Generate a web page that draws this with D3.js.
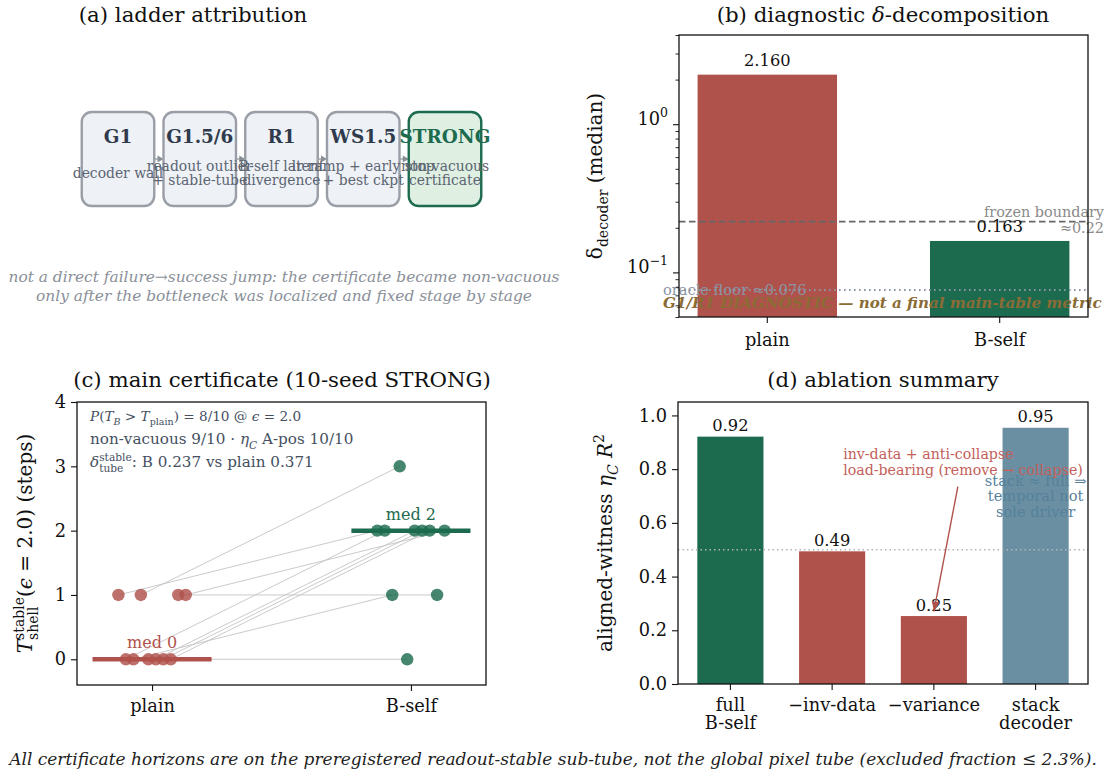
<!DOCTYPE html>
<html>
<head>
<meta charset="utf-8">
<script src="https://cdn.jsdelivr.net/npm/d3@7"></script>
<style>
  body { margin: 0; background: #fff; }
  svg { font-family: "DejaVu Serif", serif; }
</style>
</head>
<body>
<script>
// ---- data ----
// (a) ladder
const stages = ['G1', 'G1.5/6', 'R1', 'WS1.5', 'STRONG'];
const stageNotes = [
    ['decoder wall'],
    ['readout outlier', '+ stable-tube'],
    ['B-self latent', 'divergence'],
    ['lr-ramp + early stop', '+ best ckpt'],
    ['non-vacuous', 'certificate']
];

// (b) delta decomposition
const deltaCats = ['plain', 'B-self'];
const deltaMedian = [2.160, 0.163];
const frozenBoundary = 0.22;
const oracleFloor = 0.076;
const logMajor = [0.1, 1];
const logMinor = [0.05, 0.06, 0.07, 0.08, 0.09, 0.2, 0.3, 0.4, 0.5, 0.6, 0.7, 0.8, 0.9, 2, 3, 4];

// (c) per-seed certificate horizons
const certCats = ['plain', 'B-self'];
const seedPlain = [1, 0, 0, 1, 0, 0, 0, 0, 1, 1];
const seedBself = [2, 2, 1, 3, 0, 2, 2, 2, 1, 2];
const certTicks = [0, 1, 2, 3, 4];

// (d) ablation
const ablCats = [['full', 'B-self'], ['\u2212inv-data'], ['\u2212variance'], ['stack', 'decoder']];
const ablR2 = [0.921, 0.494, 0.253, 0.954];
const ablThreshold = 0.5;
const ablTicks = [0, 0.2, 0.4, 0.6, 0.8, 1.0];

// ---- style ----
const GREEN = '#1d6b4f', RED = '#b0524c', BLUE = '#6a8fa3';
const TICK = 17.8, LABEL = 20, TITLE = 21.3, VALUE = 16.3;

const svg = d3.select('body').append('svg')
    .attr('width', 1107)
    .attr('height', 776);

// mixed math text: parts = [text, kind]; kind: '' | 'i' | 'sub' | 'isub' | 'sup' | 'stack'
const rich = (text, parts, size) => {
    let shift = 0, pad = 0;
    parts.forEach(([t, k]) => {
        if (k === 'stack') {
            const up = -size * 0.42, down = size * 0.3;
            const sup = text.append('tspan').attr('font-size', size * 0.7)
                .attr('dy', up - shift).attr('dx', pad).text(t[0]);
            const w1 = sup.node().getComputedTextLength();
            const sub = text.append('tspan').attr('font-size', size * 0.7)
                .attr('dy', down - up).attr('dx', -w1).text(t[1]);
            const w2 = sub.node().getComputedTextLength();
            shift = down;
            pad = Math.max(0, w1 - w2);
            return;
        }
        let target = 0;
        if (k.includes('sub')) target = size * 0.3;
        if (k.includes('sup')) target = -size * 0.42;
        const ts = text.append('tspan').text(t).attr('dy', target - shift);
        if (pad) ts.attr('dx', pad);
        pad = 0;
        shift = target;
        if (target !== 0) ts.attr('font-size', size * 0.7);
        if (k.startsWith('i')) ts.attr('font-style', 'italic');
    });
    return text;
};

const title = (x, y, parts) => rich(svg.append('text')
    .attr('x', x).attr('y', y)
    .attr('text-anchor', 'middle')
    .attr('font-size', TITLE)
    .attr('fill', '#111'), parts, TITLE);

const yLabel = (x, y, parts) => rich(svg.append('text')
    .attr('transform', `translate(${x},${y}) rotate(-90)`)
    .attr('text-anchor', 'middle')
    .attr('font-size', LABEL)
    .attr('fill', '#111'), parts, LABEL);

const styleAxis = g => {
    g.select('.domain').remove();
    g.selectAll('line').attr('stroke', '#111').attr('stroke-width', 1.1);
    g.selectAll('text')
        .attr('font-size', TICK)
        .attr('font-family', '"DejaVu Serif", serif')
        .attr('fill', '#111');
};

const frame = m => svg.append('rect')
    .attr('x', m.l).attr('y', m.t)
    .attr('width', m.r - m.l).attr('height', m.b - m.t)
    .attr('fill', 'none')
    .attr('stroke', '#111')
    .attr('stroke-width', 1.3);

// =========== (a) ladder attribution ===========
title(193, 22, [['(a) ladder attribution', '']]);

const ladderX = d3.scaleLinear().domain([0, stages.length - 1]).range([118, 445]);
const boxW = 72.5, boxH = 94, boxTop = 112;
const gA = svg.append('g');

d3.range(stages.length - 1).forEach(i => {
    const x0 = ladderX(i) + boxW / 2, x1 = ladderX(i + 1) - boxW / 2;
    const yMid = boxTop + boxH / 2;
    gA.append('line')
        .attr('x1', x0).attr('x2', x1 - 5)
        .attr('y1', yMid).attr('y2', yMid)
        .attr('stroke', '#8a8f96').attr('stroke-width', 1.2);
    gA.append('path')
        .attr('d', `M${x1 - 6},${yMid - 3.5}L${x1},${yMid}L${x1 - 6},${yMid + 3.5}Z`)
        .attr('fill', '#8a8f96');
});

stages.forEach((s, i) => {
    const strong = i === stages.length - 1;
    const cx = ladderX(i);
    gA.append('rect')
        .attr('x', cx - boxW / 2).attr('y', boxTop)
        .attr('width', boxW).attr('height', boxH)
        .attr('rx', 10)
        .attr('fill', strong ? '#dcefe1' : '#edf0f5')
        .attr('fill-opacity', 0.92)
        .attr('stroke', strong ? GREEN : '#9a9ea6')
        .attr('stroke-width', 2.4);
});

stages.forEach((s, i) => {
    const strong = i === stages.length - 1;
    const cx = ladderX(i);
    gA.append('text')
        .attr('x', cx).attr('y', boxTop + boxH * 0.26)
        .attr('dy', '0.35em')
        .attr('text-anchor', 'middle')
        .attr('font-weight', 'bold')
        .attr('font-size', 18.4)
        .attr('fill', strong ? GREEN : '#2f3b4c')
        .text(s);
    const lines = stageNotes[i];
    const lh = 14.7;
    lines.forEach((l, j) => {
        gA.append('text')
            .attr('x', cx)
            .attr('y', boxTop + boxH * 0.65 + (j - (lines.length - 1) / 2) * lh)
            .attr('dy', '0.35em')
            .attr('text-anchor', 'middle')
            .attr('font-size', 13.9)
            .attr('fill', '#5c6572')
            .text(l);
    });
});

['not a direct failure\u2192success jump: the certificate became non-vacuous',
 'only after the bottleneck was localized and fixed stage by stage'].forEach((l, j) => {
    svg.append('text')
        .attr('x', 284).attr('y', 282 + j * 19)
        .attr('text-anchor', 'middle')
        .attr('font-style', 'italic')
        .attr('font-size', 15.4)
        .attr('fill', '#8a9099')
        .text(l);
});

// =========== (b) diagnostic delta decomposition ===========
title(883, 22, [['(b) diagnostic ', ''], ['\u03b4', 'i'], ['-decomposition', '']]);

const bM = { l: 679, r: 1088, t: 35, b: 317 };
const xb = d3.scaleBand().domain(deltaCats).range([bM.l, bM.r])
    .paddingInner(0.4).paddingOuter(0.08);
const yb = d3.scaleLog().domain([0.05, 4]).range([bM.b, bM.t]);

svg.append('g').selectAll('rect')
    .data(deltaCats)
    .join('rect')
    .attr('x', d => xb(d))
    .attr('y', (d, i) => yb(deltaMedian[i]))
    .attr('width', xb.bandwidth())
    .attr('height', (d, i) => bM.b - yb(deltaMedian[i]))
    .attr('fill', (d, i) => i === 0 ? RED : GREEN);

svg.append('line')
    .attr('x1', bM.l).attr('x2', bM.r)
    .attr('y1', yb(frozenBoundary)).attr('y2', yb(frozenBoundary))
    .attr('stroke', '#666').attr('stroke-width', 1.8)
    .attr('stroke-dasharray', '6.5,3.5');

svg.append('line')
    .attr('x1', bM.l).attr('x2', bM.r)
    .attr('y1', yb(oracleFloor)).attr('y2', yb(oracleFloor))
    .attr('stroke', '#8a95a5').attr('stroke-width', 1.9)
    .attr('stroke-dasharray', '1.6,3.4');

deltaCats.forEach((c, i) => {
    svg.append('text')
        .attr('x', xb(c) + xb.bandwidth() / 2)
        .attr('y', yb(deltaMedian[i] * 1.15))
        .attr('text-anchor', 'middle')
        .attr('font-size', VALUE)
        .attr('fill', '#111')
        .text(d3.format('.3f')(deltaMedian[i]));
});

['frozen boundary', '\u22480.22'].forEach((l, j) => {
    svg.append('text')
        .attr('x', 1104).attr('y', yb(frozenBoundary) - 5 + j * 16)
        .attr('text-anchor', 'end')
        .attr('font-size', 14.4)
        .attr('fill', '#8a8a8a')
        .text(l);
});

svg.append('text')
    .attr('x', bM.l - 16).attr('y', yb(oracleFloor) + 5)
    .attr('font-size', 14.6)
    .attr('fill', '#8a95a5')
    .text('oracle floor \u22480.076');

svg.append('text')
    .attr('x', bM.l - 16).attr('y', bM.b - 9)
    .attr('font-size', 15.1)
    .attr('font-weight', 'bold')
    .attr('font-style', 'italic')
    .attr('fill', '#8b6c35')
    .text('G1/R1 DIAGNOSTIC \u2014 not a final main-table metric');

const ybMajor = svg.append('g')
    .attr('transform', `translate(${bM.l},0)`)
    .call(d3.axisLeft(yb).tickValues(logMajor).tickSize(6).tickPadding(5).tickFormat(() => ''))
    .call(styleAxis);
ybMajor.selectAll('.tick text').each(function (d) {
    rich(d3.select(this), [['10', ''], [String(Math.round(Math.log10(d))).replace('-', '\u2212'), 'sup']], TICK);
});
svg.append('g')
    .attr('transform', `translate(${bM.l},0)`)
    .call(d3.axisLeft(yb).tickValues(logMinor).tickSize(3.5).tickFormat(() => ''))
    .call(styleAxis)
    .selectAll('line').attr('stroke-width', 0.9);

svg.append('g')
    .attr('transform', `translate(0,${bM.b})`)
    .call(d3.axisBottom(xb).tickSize(6).tickPadding(10))
    .call(styleAxis);

frame(bM);
yLabel(602, (bM.t + bM.b) / 2, [['\u03b4', ''], ['decoder', 'sub'], [' (median)', '']]);

// =========== (c) main certificate ===========
title(282, 387, [['(c) main certificate (10-seed STRONG)', '']]);

const cM = { l: 77, r: 486, t: 402, b: 685 };
const xc = d3.scaleLinear().domain([-0.29, 1.29]).range([cM.l, cM.r]);
const yc = d3.scaleLinear().domain([-0.4, 4]).range([cM.b, cM.t]);
const jitter = i => (i - (seedPlain.length - 1) / 2) * 0.26 / (seedPlain.length - 1);

const gC = svg.append('g');
seedPlain.forEach((v, i) => {
    gC.append('line')
        .attr('x1', xc(0 + jitter(i))).attr('y1', yc(v))
        .attr('x2', xc(1 + jitter(i))).attr('y2', yc(seedBself[i]))
        .attr('stroke', '#c4c4c4').attr('stroke-width', 0.9);
});

[seedPlain, seedBself].forEach((vals, k) => {
    const med = d3.median(vals);
    const col = k === 0 ? RED : GREEN;
    gC.append('line')
        .attr('x1', xc(k - 0.23)).attr('x2', xc(k + 0.23))
        .attr('y1', yc(med)).attr('y2', yc(med))
        .attr('stroke', col).attr('stroke-width', 4.5);
    gC.append('text')
        .attr('x', xc(k)).attr('y', yc(med) - 11)
        .attr('text-anchor', 'middle')
        .attr('font-size', 16)
        .attr('fill', col)
        .text(`med ${med}`);
});

[seedPlain, seedBself].forEach((vals, k) => {
    gC.selectAll(null)
        .data(vals)
        .join('circle')
        .attr('cx', (d, i) => xc(k + jitter(i)))
        .attr('cy', d => yc(d))
        .attr('r', 6.2)
        .attr('fill', k === 0 ? RED : GREEN)
        .attr('fill-opacity', 0.82);
});

const noteC = [
    [['P', 'i'], ['(', ''], ['T', 'i'], ['B', 'isub'], [' > ', ''], ['T', 'i'], ['plain', 'sub'],
     [') = 8/10 @ ', ''], ['\u03f5', 'i'], [' = 2.0', '']],
    [['non-vacuous 9/10 \u00b7 ', ''], ['\u03b7', 'i'], ['C', 'isub'], [' A-pos 10/10', '']],
    [['\u03b4', 'i'], [['stable', 'tube'], 'stack'], [': B 0.237 vs plain 0.371', '']]
];
const noteSize = [13.6, 15.2, 15.2];
noteC.forEach((parts, j) => {
    rich(svg.append('text')
        .attr('x', 90).attr('y', 421 + j * 23)
        .attr('font-size', noteSize[j])
        .attr('fill', '#45505f'), parts, noteSize[j]);
});

svg.append('g')
    .attr('transform', `translate(${cM.l},0)`)
    .call(d3.axisLeft(yc).tickValues(certTicks).tickSize(6).tickPadding(5).tickFormat(d3.format('d')))
    .call(styleAxis);
svg.append('g')
    .attr('transform', `translate(0,${cM.b})`)
    .call(d3.axisBottom(xc).tickValues([0, 1]).tickSize(6).tickPadding(8).tickFormat(i => certCats[i]))
    .call(styleAxis);
frame(cM);
yLabel(32, (cM.t + cM.b) / 2, [['T', 'i'], [['stable', 'shell'], 'stack'], ['(', ''], ['\u03f5', 'i'], [' = 2.0)  (steps)', '']]);

// =========== (d) ablation summary ===========
title(883, 387, [['(d) ablation summary', '']]);

const dM = { l: 678, r: 1088, t: 402, b: 684 };
const xd = d3.scaleBand().domain(d3.range(ablCats.length)).range([dM.l, dM.r])
    .paddingInner(0.35).paddingOuter(0.19);
const yd = d3.scaleLinear().domain([0, 1.05]).range([dM.b, dM.t]);
const ablColor = [GREEN, RED, RED, BLUE];

svg.append('g').selectAll('rect')
    .data(ablR2)
    .join('rect')
    .attr('x', (d, i) => xd(i))
    .attr('y', d => yd(d))
    .attr('width', xd.bandwidth())
    .attr('height', d => dM.b - yd(d))
    .attr('fill', (d, i) => ablColor[i]);

svg.append('line')
    .attr('x1', dM.l).attr('x2', dM.r)
    .attr('y1', yd(ablThreshold)).attr('y2', yd(ablThreshold))
    .attr('stroke', '#b4b4b4').attr('stroke-width', 1.5)
    .attr('stroke-dasharray', '1.5,3');

ablR2.forEach((v, i) => {
    svg.append('text')
        .attr('x', xd(i) + xd.bandwidth() / 2)
        .attr('y', yd(v + 0.02))
        .attr('text-anchor', 'middle')
        .attr('font-size', VALUE)
        .attr('fill', '#111')
        .text(d3.format('.2f')(v));
});

// annotation: arrow to the -variance bar
const arrowFrom = [xd(2) + xd.bandwidth() / 2 + 24, yd(0.735)];
const arrowTo = [xd(2) + xd.bandwidth() / 2, yd(0.27)];
svg.append('line')
    .attr('x1', arrowFrom[0]).attr('y1', arrowFrom[1])
    .attr('x2', arrowTo[0]).attr('y2', arrowTo[1])
    .attr('stroke', RED).attr('stroke-width', 1.4);
{
    const ang = Math.atan2(arrowTo[1] - arrowFrom[1], arrowTo[0] - arrowFrom[0]);
    const L = 10, Wd = 4;
    const bx = arrowTo[0] - L * Math.cos(ang), by = arrowTo[1] - L * Math.sin(ang);
    svg.append('path')
        .attr('d', `M${arrowTo[0]},${arrowTo[1]}L${bx - Wd * Math.sin(ang)},${by + Wd * Math.cos(ang)}L${bx + Wd * Math.sin(ang)},${by - Wd * Math.cos(ang)}Z`)
        .attr('fill', RED);
}

['inv-data + anti-collapse', 'load-bearing (remove \u2192 collapse)'].forEach((l, j) => {
    svg.append('text')
        .attr('x', xd(1) + xd.bandwidth() / 2 + 11)
        .attr('y', yd(0.858) + 5 + j * 16)
        .attr('font-size', 14.2)
        .attr('fill', '#c3605a')
        .text(l);
});

['stack \u2248 full \u21d2', 'temporal not', 'sole driver'].forEach((l, j) => {
    svg.append('text')
        .attr('x', xd(3) + xd.bandwidth() / 2)
        .attr('y', yd(0.757) + 5 + j * 15.5)
        .attr('text-anchor', 'middle')
        .attr('font-size', 14.6)
        .attr('fill', '#56819a')
        .text(l);
});

svg.append('g')
    .attr('transform', `translate(${dM.l},0)`)
    .call(d3.axisLeft(yd).tickValues(ablTicks).tickSize(6).tickPadding(5).tickFormat(d3.format('.1f')))
    .call(styleAxis);
const xdAxis = svg.append('g')
    .attr('transform', `translate(0,${dM.b})`)
    .call(d3.axisBottom(xd).tickSize(6).tickPadding(8).tickFormat(() => ''))
    .call(styleAxis);
xdAxis.selectAll('.tick text').each(function (d) {
    const t = d3.select(this);
    ablCats[d].forEach((l, j) => {
        t.append('tspan').attr('x', 0).attr('dy', j === 0 ? '0.71em' : '1.02em').text(l);
    });
});
frame(dM);
yLabel(612, (dM.t + dM.b) / 2, [['aligned-witness ', ''], ['\u03b7', 'i'], ['C', 'isub'], ['  ', ''], ['R', 'i'], ['2', 'sup']]);

// footer
svg.append('text')
    .attr('x', 553).attr('y', 765)
    .attr('text-anchor', 'middle')
    .attr('font-style', 'italic')
    .attr('font-size', 17)
    .attr('fill', '#222')
    .text('All certificate horizons are on the preregistered readout-stable sub-tube, not the global pixel tube (excluded fraction \u2264 2.3%).');
</script>
</body>
</html>
